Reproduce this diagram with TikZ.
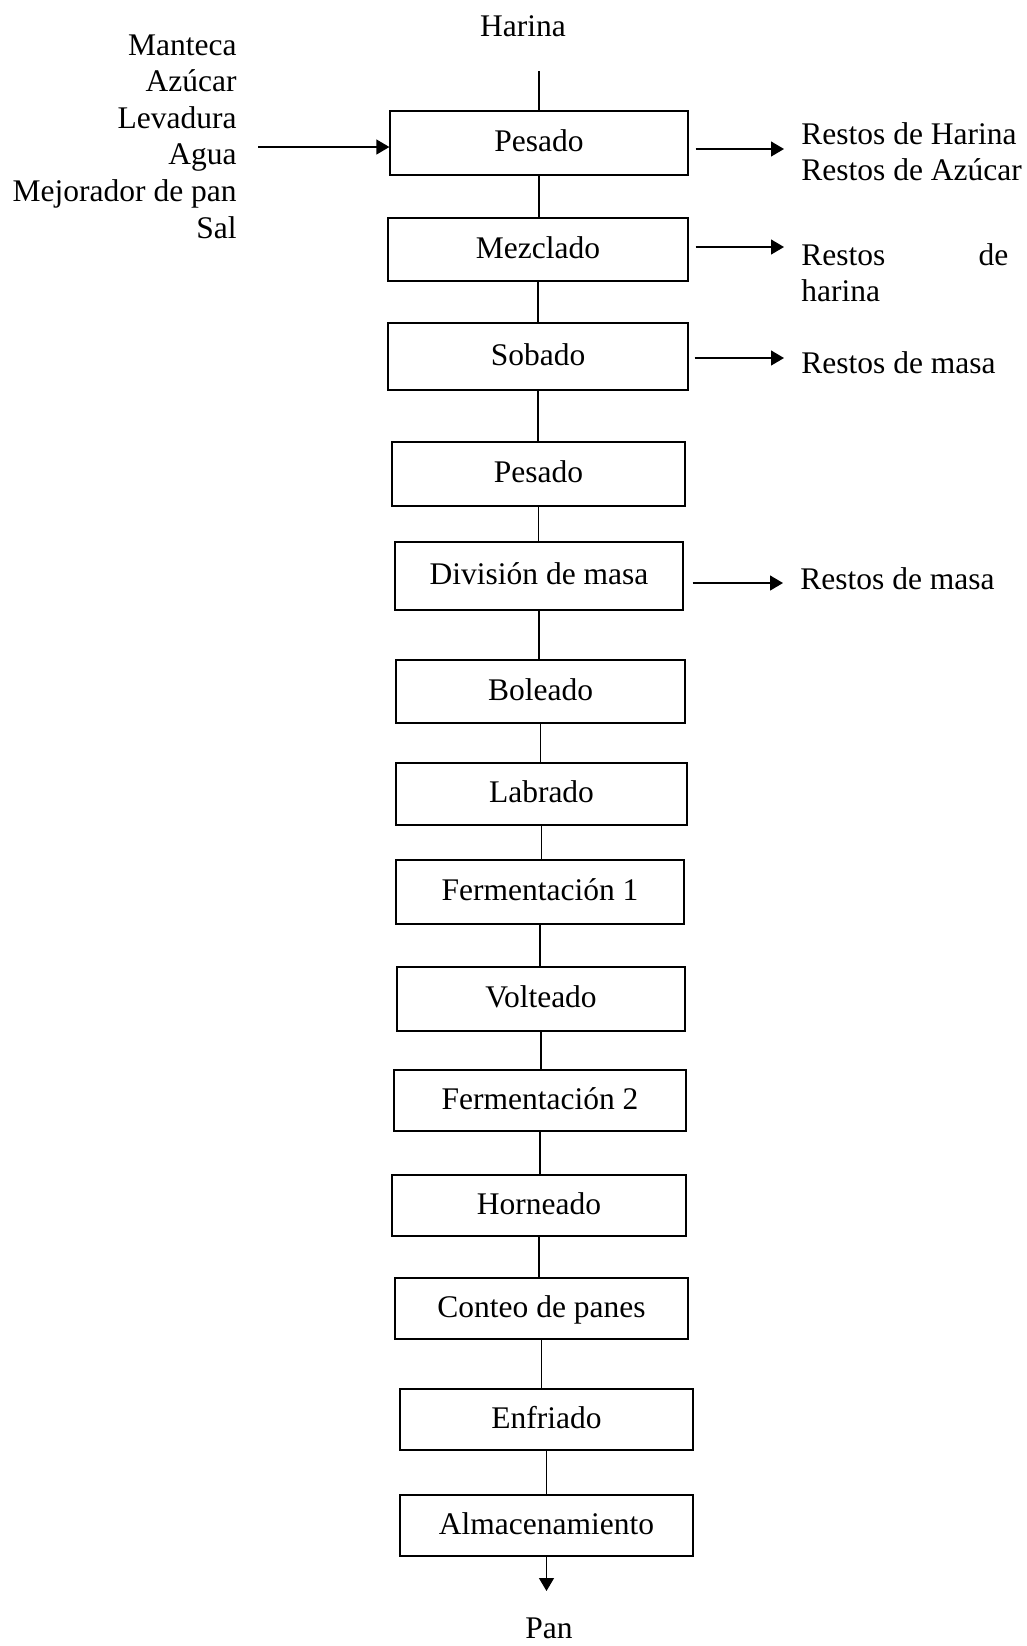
\documentclass[tikz,border=0pt]{standalone}
\usepackage{fontspec}
\setmainfont{Liberation Serif}
\usetikzlibrary{arrows.meta}
\begin{document}
\begin{tikzpicture}[x=0.5pt,y=-0.5pt,
  txt/.style={font=\fontsize{15.75pt}{18.3pt}\selectfont, inner sep=0pt},
  stepbox/.style={txt, draw, line width=0.65pt, text height=12.1pt, text depth=3.6pt},
  conn/.style={line width=0.6pt},
  arr/.style={line width=0.65pt, -{Triangle[length=6.5pt,width=7.5pt]}}]
\useasboundingbox (0,0) rectangle (1027,1646);

% process boxes
\node[stepbox, minimum width=149pt,   minimum height=32pt]   (b1)  at (539,143)    {Pesado};
\node[stepbox, minimum width=150pt,   minimum height=31.5pt] (b2)  at (538,249.5)  {Mezclado};
\node[stepbox, minimum width=150pt,   minimum height=33.5pt] (b3)  at (538,356.5)  {Sobado};
\node[stepbox, minimum width=146.5pt, minimum height=32pt]   (b4)  at (538.5,474)  {Pesado};
\node[stepbox, minimum width=144pt,   minimum height=34pt]   (b5)  at (539,576)    {División de masa};
\node[stepbox, minimum width=144.5pt, minimum height=31.5pt] (b6)  at (540.5,691.5){Boleado};
\node[stepbox, minimum width=145.5pt, minimum height=31pt]   (b7)  at (541.5,794)  {Labrado};
\node[stepbox, minimum width=144pt,   minimum height=32pt]   (b8)  at (540,892)    {Fermentación 1};
\node[stepbox, minimum width=144pt,   minimum height=32pt]   (b9)  at (541,999)    {Volteado};
\node[stepbox, minimum width=146pt,   minimum height=30.5pt] (b10) at (540,1100.5) {Fermentación 2};
\node[stepbox, minimum width=147pt,   minimum height=30.5pt] (b11) at (539,1205.5) {Horneado};
\node[stepbox, minimum width=146.5pt, minimum height=30.5pt] (b12) at (541.5,1308.5){Conteo de panes};
\node[stepbox, minimum width=146.5pt, minimum height=30.5pt] (b13) at (546.5,1419.5){Enfriado};
\node[stepbox, minimum width=146.5pt, minimum height=30.5pt] (b14) at (546.5,1525.5){Almacenamiento};

% vertical connectors
\foreach \a/\b in {b1/b2,b2/b3,b3/b4,b4/b5,b5/b6,b6/b7,b7/b8,b8/b9,b9/b10,b10/b11,b11/b12,b12/b13,b13/b14}
  \draw[conn] (\a.south) -- (\a.south |- \b.north);

% top input
\node[txt, anchor=base] (harina) at (523,36) {Harina};
\coordinate (hs) at (539,71);
\draw[conn] (hs) -- (b1.north);

% left inputs
\node[txt, anchor=north east, align=right] (ins) at (237,34)
  {Manteca\\Azúcar\\Levadura\\Agua\\Mejorador de pan\\Sal};
\coordinate (ia) at (258,147);
\draw[arr] (ia) -- (ia -| b1.west);

% outputs
\coordinate (o1) at (784,149);
\draw[arr, shorten <=3.5pt] (b1.east |- o1) -- (o1);
\node[txt, anchor=north west, align=left] (r1) at (801,122)
  {Restos de Harina\\Restos de Azúcar};

\coordinate (o2) at (784,247);
\draw[arr, shorten <=3.5pt] (b2.east |- o2) -- (o2);
\node[txt, anchor=north west, align=left] (r2) at (801,243)
  {\makebox[103.5pt][s]{Restos de}\\harina};

\coordinate (o3) at (784,358);
\draw[arr, shorten <=3pt] (b3.east |- o3) -- (o3);
\node[txt, anchor=base west] (r3) at (801,373) {Restos de masa};

\coordinate (o5) at (783,583);
\draw[arr, shorten <=4.5pt] (b5.east |- o5) -- (o5);
\node[txt, anchor=base west] (r5) at (800,589) {Restos de masa};

% final output
\coordinate (pe) at (546.5,1591);
\draw[arr] (b14.south) -- (pe);
\node[txt, anchor=base] (pan) at (549,1638) {Pan};
\end{tikzpicture}
\end{document}
